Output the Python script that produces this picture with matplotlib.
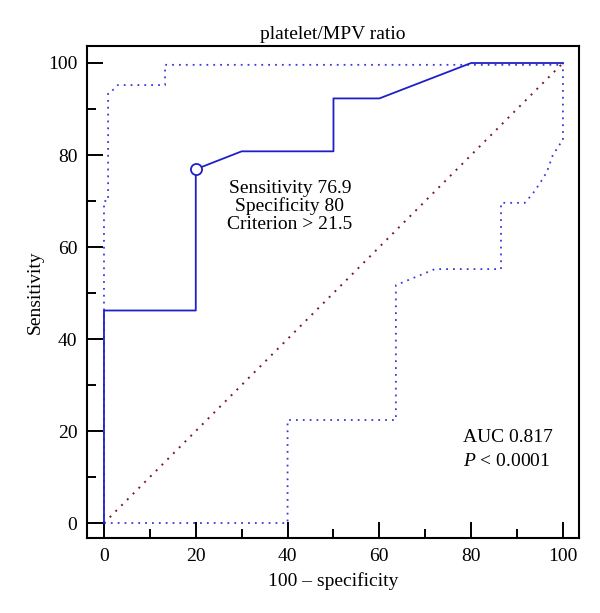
import matplotlib
matplotlib.use("Agg")
import matplotlib.pyplot as plt
from matplotlib.ticker import MultipleLocator

plt.rcParams['font.family'] = ['Liberation Serif', 'DejaVu Serif']
plt.rcParams['mathtext.fontset'] = 'custom'
plt.rcParams['mathtext.rm'] = 'Liberation Serif'
plt.rcParams['mathtext.it'] = 'Liberation Serif:italic'

# ROC curve
roc_x = [0, 0, 20, 20, 30, 50, 50, 60, 80, 100]
roc_y = [0, 46.2, 46.2, 76.9, 80.8, 80.8, 92.3, 92.3, 100, 100]

# Upper confidence bound
upper_x = [0, 0, 0.9, 0.9, 1.7, 3.0, 13.3, 13.3, 100]
upper_y = [0, 70.0, 70.0, 93.5, 93.9, 95.2, 95.2, 99.6, 99.6]

# Lower confidence bound
lower_x = [0, 40, 40, 63.6, 63.6, 72.1, 86.5, 86.5, 91.7, 93.5, 95.0, 96.5, 97.8, 99.5, 100, 100]
lower_y = [0, 0, 22.4, 22.4, 51.7, 55.2, 55.2, 69.6, 69.6, 71.7, 73.9, 76.3, 80.0, 82.6, 83.0, 100]

# Reference diagonal
diag_x = [0, 100]
diag_y = [0, 100]

# Optimal point
opt_x = [20]
opt_y = [76.9]

ticks = [0, 20, 40, 60, 80, 100]

fig = plt.figure(figsize=(6, 6.13), dpi=100)
ax = fig.add_axes([0.145, 0.1223, 0.82, 0.8027])

blue = '#1f1fc8'
dotblue = '#3a3ad8'
maroon = '#7a1a28'

ax.plot(diag_x, diag_y, color=maroon, lw=1.4, linestyle=(0, (1, 3.2)))
ax.plot(upper_x, upper_y, color=dotblue, lw=1.3, linestyle=(0, (1, 2.8)))
ax.plot(lower_x, lower_y, color=dotblue, lw=1.3, linestyle=(0, (1, 2.8)))
ax.plot(roc_x, roc_y, color=blue, lw=1.3)
ax.plot(opt_x, opt_y, 'o', markersize=8, markerfacecolor='white',
        markeredgecolor=blue, markeredgewidth=1.3)

ax.set_xlim(-3.7, 103.5)
ax.set_ylim(-3.26, 103.7)
ax.set_xticks(ticks)
ax.set_yticks(ticks)
ax.xaxis.set_minor_locator(MultipleLocator(10))
ax.yaxis.set_minor_locator(MultipleLocator(10))
ax.tick_params(which='major', direction='in', length=11.5, width=1.4,
               labelsize=14, pad=7)
ax.tick_params(which='minor', direction='in', length=6.5, width=1.4)
for s in ax.spines.values():
    s.set_linewidth(1.5)

ax.set_title('platelet/MPV ratio', fontsize=14, pad=5)
ax.set_xlabel('100 – specificity', fontsize=14, labelpad=5)
ax.set_ylabel('Sensitivity', fontsize=14, labelpad=3)

ax.text(40.5, 72.8, 'Sensitivity 76.9', ha='center', va='center', fontsize=14)
ax.text(40.5, 68.9, 'Specificity 80', ha='center', va='center', fontsize=14)
ax.text(40.5, 65.0, 'Criterion > 21.5', ha='center', va='center', fontsize=14)

ax.text(78.2, 18.5, 'AUC 0.817', ha='left', va='center', fontsize=14)
ax.text(78.2, 13.3, r'$\mathit{P}$ < 0.0001', ha='left', va='center', fontsize=14)

fig.savefig('out.png', dpi=100)
